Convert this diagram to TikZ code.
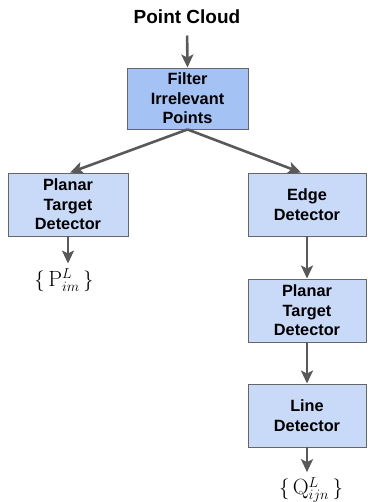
\documentclass[tikz,border=0pt]{standalone}
\usepackage{fontspec}
\newfontfamily\labelfont{Liberation Sans}
\usetikzlibrary{arrows.meta}
\definecolor{boxdark}{HTML}{A4C2F4}
\definecolor{boxlight}{HTML}{C9DAF8}
\definecolor{edgegray}{HTML}{666666}
\definecolor{arrowgray}{HTML}{595959}
\tikzset{
  stagebox/.style={draw=edgegray, line width=0.9pt, fill=boxlight, align=center,
    inner sep=0pt, minimum width=118pt, minimum height=63pt,
    font=\labelfont\fontsize{16.3}{19.5}\selectfont\bfseries},
  flowarrow/.style={draw=arrowgray, line width=2.6pt,
    -{Stealth[length=13pt,width=12pt,inset=3pt]}},
  mathlabel/.style={inner sep=0pt, font=\fontsize{22}{24}\selectfont}
}
\begin{document}
\begin{tikzpicture}[x=1pt,y=-1pt]
  \useasboundingbox (0,0) rectangle (367,502);
  \node[font=\labelfont\fontsize{19}{21}\selectfont\bfseries] (title) at (187,17) {Point Cloud};
  \node[stagebox, fill=boxdark, minimum width=121pt, minimum height=61pt] (filter) at (187.5,98.5)
    {Filter\\Irrelevant\\Points};
  \node[stagebox, minimum width=120pt] (ptl) at (68,204.5) {Planar\\Target\\Detector};
  \node[stagebox] (edge) at (307,204.5) {Edge\\Detector};
  \node[stagebox] (ptr) at (307,310.5) {Planar\\Target\\Detector};
  \node[stagebox] (line) at (307,415.5) {Line\\Detector};
  \node[mathlabel] (pout) at (64,280) {$\{\,\mathrm{P}^{L}_{im}\,\}$};
  \node[mathlabel] (qout) at (311,490) {$\{\,\mathrm{Q}^{L}_{ijn}\,\}$};

  \draw[flowarrow, shorten <=8pt] (title.south) -- (filter.north);
  \draw[flowarrow] (filter.south) -- ([xshift=2pt]ptl.north);
  \draw[flowarrow] (filter.south) -- ([xshift=-6pt]edge.north);
  \draw[flowarrow, shorten >=5pt] (ptl.south) -- (ptl.south |- pout.north);
  \draw[flowarrow] (edge.south) -- (ptr.north);
  \draw[flowarrow] (ptr.south) -- (line.north);
  \draw[flowarrow, shorten >=5pt] (line.south) -- (line.south |- qout.north);
\end{tikzpicture}
\end{document}
